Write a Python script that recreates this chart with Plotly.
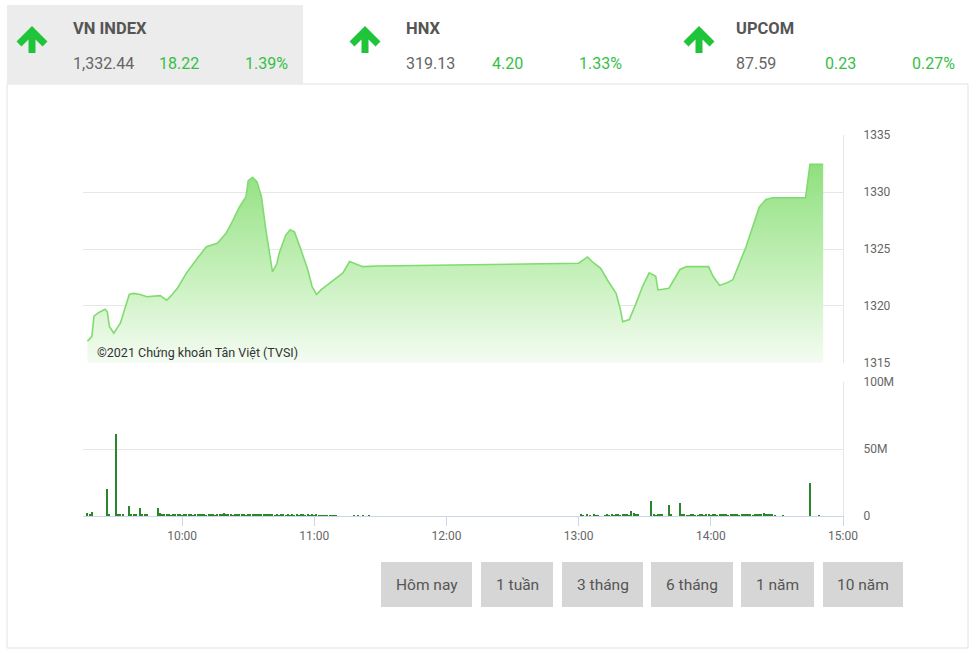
import pandas as pd
import plotly.graph_objects as go

W, H = 975, 652
DAY = "2021-11-09 "

# ---------------- data ----------------
index_names = ["VN INDEX", "HNX", "UPCOM"]
index_values = ["1,332.44", "319.13", "87.59"]
index_changes = ["18.22", "4.20", "0.23"]
index_pcts = ["1.39%", "1.33%", "0.27%"]

price_times = ["09:17", "09:19", "09:20", "09:22", "09:25", "09:26", "09:27", "09:29", "09:32", "09:33",
               "09:36", "09:38", "09:41", "09:44", "09:50", "09:53", "09:55", "09:58", "10:02", "10:07",
               "10:11", "10:16", "10:20", "10:23", "10:26", "10:29", "10:30", "10:32", "10:34", "10:36",
               "10:38", "10:41", "10:43", "10:44", "10:47", "10:49", "10:51", "10:54", "10:57", "10:59",
               "11:01", "11:03", "11:09", "11:13", "11:16", "11:19", "11:22", "11:29", "13:00", "13:04",
               "13:07", "13:10", "13:13", "13:17", "13:19", "13:20", "13:23", "13:26", "13:29", "13:32",
               "13:35", "13:36", "13:41", "13:46", "13:49", "13:59", "14:01", "14:04", "14:07", "14:10",
               "14:13", "14:16", "14:19", "14:22", "14:25", "14:28", "14:43", "14:45", "14:51"]
price_values = [1316.9, 1317.3, 1319.1, 1319.4, 1319.7, 1319.5, 1318.2, 1317.6, 1318.5, 1319.1,
                1321.0, 1321.1, 1321.0, 1320.8, 1320.9, 1320.5, 1320.9, 1321.6, 1322.9, 1324.2,
                1325.2, 1325.5, 1326.4, 1327.5, 1328.7, 1329.6, 1331.0, 1331.3, 1330.9, 1329.6,
                1326.7, 1323.0, 1323.7, 1324.6, 1326.2, 1326.7, 1326.5, 1324.9, 1323.2, 1321.7,
                1321.0, 1321.4, 1322.3, 1322.9, 1323.9, 1323.7, 1323.45, 1323.5, 1323.75, 1324.3,
                1323.75, 1323.3, 1322.3, 1321.1, 1319.65, 1318.6, 1318.8, 1320.2, 1321.7, 1322.9,
                1322.6, 1321.4, 1321.55, 1323.2, 1323.45, 1323.45, 1322.6, 1321.8, 1322.0, 1322.3,
                1323.75, 1325.2, 1326.95, 1328.7, 1329.35, 1329.5, 1329.5, 1332.44, 1332.44]

# volume (millions), consecutive one-minute bars starting at each segment start
vol_seg_starts = ["09:17", "09:26", "09:30", "09:36", "09:41", "09:49",
                  "11:18", "11:20", "11:22", "11:25",
                  "13:01", "13:12", "13:33", "13:41", "13:46", "14:33", "14:45", "14:49"]
vol_seg_values = [
    [2.5, 1.2, 3.0],
    [20, 1.0],
    [61, 1.0, 0.8, 1.5],
    [7.3, 1.5, 1.2, 1.0],
    [6.3, 1.5, 1.0, 1.2],
    [6.3, 2.5, 1.0, 0.8, 1.2, 0.9, 0.7, 1.0, 0.8, 1.1, 0.9, 0.6, 1.0, 0.8, 0.9, 1.2, 0.7, 0.8, 1.0, 0.9,
     0.8, 1.1, 0.7, 0.9, 1.0, 0.8, 0.6, 1.0, 0.9, 1.2, 2.0, 0.8, 1.0, 0.9, 0.7, 1.1, 0.8, 0.9, 1.0, 0.8,
     0.7, 1.2, 0.9, 1.0, 0.8, 1.1, 0.9, 0.8, 1.0, 1.5, 0.9, 1.2, 0.8, 0.7, 0.9, 0.6, 1.0, 0.8, 0.5, 0.9,
     0.7, 0.8, 0.6, 0.9, 0.5, 0.8, 1.0, 0.7, 0.9, 0.6, 0.8, 0.7, 0.9, 0.6, 0.5, 0.7, 0.6, 0.5, 0.6, 0.4,
     0.5, 0.4],
    [0.5], [0.6], [0.5], [0.4],
    [0.8, 0.6, 0, 0.9, 0.7, 0, 0.8, 0.6, 0.7],
    [0.6, 0.8, 0.7, 0.9, 0.6, 0.8, 1.0, 0.7, 0.9, 1.1, 0.8, 0.7, 4.0, 2.0, 1.2, 0.8],
    [11, 0.8, 0.6, 0.9, 0.8, 1.5],
    [8, 1.0],
    [10, 1.2, 0.8, 0.6, 0.7, 0.8, 0.9, 0.7, 0.6, 0.8, 0.9, 0.7, 0.8, 1.0, 0.7, 0.9, 0.8, 0.6, 0.9, 1.0,
     0.8, 1.2, 0.7, 0.9, 1.0, 0.8, 1.1, 0.7, 0.9, 1.2, 0.8, 1.0, 0.9, 0.7, 0.8, 1.0, 0.9, 0.8, 2.5, 1.2,
     0.9, 0.8, 1.0, 0.7],
    [0.4],
    [25],
    [0.4],
]

y_ticks_price = [1315, 1320, 1325, 1330, 1335]
y_ticks_vol = [0, 50e6, 100e6]
y_ticks_vol_text = ["0", "50M", "100M"]
watermark = "©2021 Chứng khoán Tân Việt (TVSI)"
buttons = ["Hôm nay", "1 tuần", "3 tháng", "6 tháng", "1 năm", "10 năm"]

# ---------------- build ----------------
px_t = [pd.Timestamp(DAY + t) for t in price_times]
vol_x, vol_y = [], []
for s, vals in zip(vol_seg_starts, vol_seg_values):
    t0 = pd.Timestamp(DAY + s)
    for i, v in enumerate(vals):
        if v > 0:
            vol_x.append(t0 + pd.Timedelta(minutes=i))
            vol_y.append(v * 1e6)


def fx(p):
    return p / W


def fy(p):
    return 1 - p / H


FONT = "Roboto"
GRID = "#e6e6e6"
GREEN_TXT = "#35bf45"

fig = go.Figure()
# baseline for fill
fig.add_trace(go.Scatter(x=[px_t[0], px_t[-1]], y=[1315, 1315], mode="lines",
                         line=dict(width=0, color="rgba(0,0,0,0)"), hoverinfo="skip",
                         showlegend=False, xaxis="x", yaxis="y"))
fig.add_trace(go.Scatter(x=px_t, y=price_values, mode="lines", fill="tonexty",
                         line=dict(color="#80dc70", width=1.6),
                         fillgradient=dict(type="vertical", start=1315, stop=1332.5,
                                           colorscale=[[0, "#f4fcf2"], [0.45, "#c6f0bb"], [1, "#8fe07e"]]),
                         showlegend=False, xaxis="x", yaxis="y"))
fig.add_trace(go.Bar(x=vol_x, y=vol_y, width=30000, marker=dict(color="#2b862b", line=dict(width=0)),
                     showlegend=False, xaxis="x2", yaxis="y2"))

xr = [pd.Timestamp(DAY + "09:15"), pd.Timestamp(DAY + "15:00")]
xdom = [fx(83), fx(843)]

fig.update_layout(
    width=W, height=H, autosize=False,
    margin=dict(l=0, r=0, t=0, b=0, pad=0, autoexpand=False),
    showlegend=False,
    paper_bgcolor="white", plot_bgcolor="white",
    font=dict(family=FONT, color="#666666", size=12),
    bargap=0,
    xaxis=dict(domain=xdom, range=xr, type="date", matches="x2", showticklabels=False, automargin=False,
               showgrid=False, zeroline=False, showline=False, ticks=""),
    yaxis=dict(domain=[fy(363), fy(135)], range=[1314.98, 1335.02], side="right", automargin=False,
               tickvals=y_ticks_price, showgrid=True, gridcolor=GRID, gridwidth=1,
               showline=True, linecolor=GRID, zeroline=False, ticks="",
               ticklabelstandoff=17, tickfont=dict(size=12, color="#666666")),
    xaxis2=dict(domain=xdom, range=xr, type="date", anchor="y2", automargin=False,
                tickformat="%H:%M", dtick=3600000, tick0=DAY + "10:00",
                showgrid=False, zeroline=False, showline=True, linecolor="#ccd6eb",
                ticks="outside", ticklen=9, tickcolor="#ccd6eb",
                tickfont=dict(size=12, color="#666666")),
    yaxis2=dict(domain=[fy(516), fy(382)], range=[0, 100.2e6], side="right", anchor="x2", automargin=False,
                tickvals=y_ticks_vol, ticktext=y_ticks_vol_text, showgrid=True,
                gridcolor=GRID, showline=True, linecolor=GRID, zeroline=False, ticks="",
                ticklabelstandoff=17, tickfont=dict(size=12, color="#666666")),
)

shapes = []
annotations = []
# outer box
shapes.append(dict(type="rect", xref="paper", yref="paper", x0=fx(7), x1=fx(968), y0=fy(648), y1=fy(84),
                   line=dict(color="#e2e2e2", width=1), fillcolor="rgba(0,0,0,0)", layer="below"))
# active tab
shapes.append(dict(type="rect", xref="paper", yref="paper", x0=fx(7), x1=fx(303), y0=fy(84), y1=fy(5),
                   line=dict(width=0), fillcolor="#ececec", layer="below"))

arrow_cx = [32, 365, 699]
text_left = [71, 404, 734]
chg_left = [157, 490, 823]
pct_left = [243, 577, 910]
for i in range(3):
    cx = arrow_cx[i]
    path = (f"M {fx(cx-13)} {fy(44)} L {fx(cx)} {fy(31)} L {fx(cx+13)} {fy(44)} "
            f"M {fx(cx)} {fy(31)} L {fx(cx)} {fy(53)}")
    shapes.append(dict(type="path", xref="paper", yref="paper", path=path,
                       line=dict(color="#1fc43b", width=7)))
    for x, yv, txt, col, bold in [
        (text_left[i], 29, index_names[i], "#555555", True),
        (text_left[i], 64, index_values[i], "#666666", False),
        (chg_left[i], 64, index_changes[i], GREEN_TXT, False),
        (pct_left[i], 64, index_pcts[i], GREEN_TXT, False),
    ]:
        annotations.append(dict(xref="paper", yref="paper", x=fx(x), y=fy(yv), xanchor="left",
                                yanchor="middle", showarrow=False,
                                text=f"<b>{txt}</b>" if bold else txt,
                                font=dict(family=FONT, size=16.5 if bold else 16, color=col)))

annotations.append(dict(xref="paper", yref="paper", x=fx(95), y=fy(352), xanchor="left", yanchor="middle",
                        showarrow=False, text=watermark,
                        font=dict(family=FONT, size=12.5, color="#333333")))

btn_x0 = [381, 481, 562, 651, 741, 823]
btn_x1 = [472, 553, 643, 733, 814, 903]
for lbl, a, b in zip(buttons, btn_x0, btn_x1):
    shapes.append(dict(type="rect", xref="paper", yref="paper", x0=fx(a), x1=fx(b), y0=fy(607), y1=fy(562),
                       line=dict(width=0), fillcolor="#d6d6d6", layer="below"))
    annotations.append(dict(xref="paper", yref="paper", x=fx((a + b) / 2), y=fy(585), xanchor="center",
                            yanchor="middle", showarrow=False, text=lbl,
                            font=dict(family=FONT, size=15.5, color="#555555")))

fig.update_layout(shapes=shapes, annotations=annotations)
fig.write_html("out.html", config={"responsive": False, "displayModeBar": False})
